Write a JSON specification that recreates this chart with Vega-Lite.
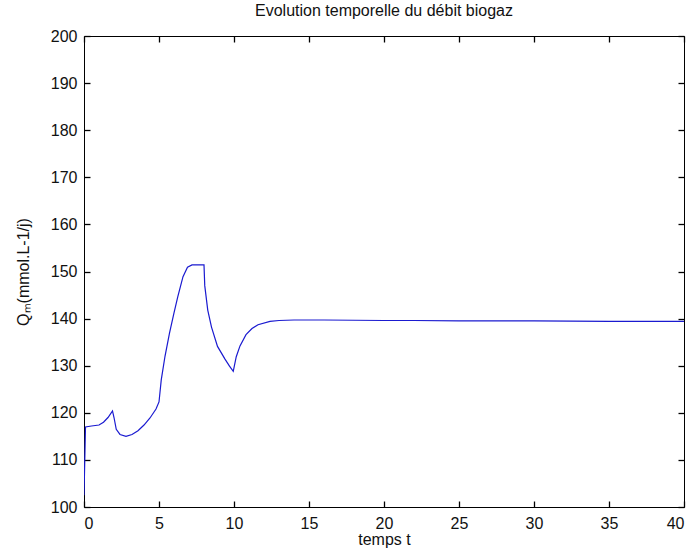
{
  "$schema": "https://vega.github.io/schema/vega-lite/v6.json",
  "width": 600,
  "height": 471,
  "autosize": {"type": "none"},
  "padding": {"left": 84, "top": 36, "right": 7, "bottom": 48},
  "background": "white",
  "title": {"text": "Evolution temporelle du débit biogaz", "font": "Liberation Sans", "fontSize": 16, "fontWeight": "normal", "color": "#111111", "anchor": "middle", "baseline": "alphabetic", "offset": -4},
  "data": {"values": [
    {"t": 0, "Q": 102.5}, {"t": 0.1, "Q": 117.0}, {"t": 0.5, "Q": 117.2}, {"t": 1.0, "Q": 117.4},
    {"t": 1.3, "Q": 118.0}, {"t": 1.6, "Q": 119.0}, {"t": 1.9, "Q": 120.4}, {"t": 2.0, "Q": 119.0},
    {"t": 2.15, "Q": 116.5}, {"t": 2.4, "Q": 115.4}, {"t": 2.8, "Q": 115.0}, {"t": 3.2, "Q": 115.4},
    {"t": 3.6, "Q": 116.2}, {"t": 4.0, "Q": 117.4}, {"t": 4.4, "Q": 118.9}, {"t": 4.8, "Q": 120.8},
    {"t": 5.0, "Q": 122.3}, {"t": 5.15, "Q": 127.0}, {"t": 5.4, "Q": 132.0}, {"t": 5.7, "Q": 136.9},
    {"t": 6.0, "Q": 141.2}, {"t": 6.25, "Q": 144.6}, {"t": 6.6, "Q": 148.9}, {"t": 6.9, "Q": 150.9},
    {"t": 7.2, "Q": 151.4}, {"t": 8.0, "Q": 151.4}, {"t": 8.05, "Q": 147.0}, {"t": 8.25, "Q": 141.8},
    {"t": 8.5, "Q": 138.2}, {"t": 8.9, "Q": 134.1}, {"t": 9.4, "Q": 131.4}, {"t": 9.7, "Q": 129.9},
    {"t": 9.95, "Q": 128.8}, {"t": 10.15, "Q": 131.9}, {"t": 10.4, "Q": 134.2}, {"t": 10.8, "Q": 136.6},
    {"t": 11.2, "Q": 137.9}, {"t": 11.6, "Q": 138.7}, {"t": 12.4, "Q": 139.4}, {"t": 13.0, "Q": 139.6},
    {"t": 14.0, "Q": 139.7}, {"t": 16.0, "Q": 139.7}, {"t": 20.0, "Q": 139.6}, {"t": 22.0, "Q": 139.6},
    {"t": 25.0, "Q": 139.5}, {"t": 30.0, "Q": 139.5}, {"t": 35.0, "Q": 139.4}, {"t": 40.0, "Q": 139.4}
  ]},
  "layer": [
    {
      "mark": {"type": "line", "color": "#1a1ad0", "strokeWidth": 1.2, "clip": true},
      "encoding": {
        "x": {"field": "t", "type": "quantitative", "scale": {"domain": [0, 40], "nice": false, "zero": false},
              "axis": {"orient": "bottom", "offset": -6, "values": [0, 5, 10, 15, 20, 25, 30, 35, 40], "title": "temps t", "labelPadding": 8, "titlePadding": 0}},
        "y": {"field": "Q", "type": "quantitative", "scale": {"domain": [100, 200], "nice": false, "zero": false},
              "axis": {"orient": "left", "offset": -6, "values": [100, 110, 120, 130, 140, 150, 160, 170, 180, 190, 200], "title": "Qₘ(mmol.L-1/j)", "labelPadding": 7, "titlePadding": 19}}
      }
    },
    {
      "mark": {"type": "line", "opacity": 0},
      "encoding": {
        "x": {"field": "t", "type": "quantitative", "axis": {"orient": "top", "offset": -6, "values": [0, 5, 10, 15, 20, 25, 30, 35, 40], "labels": false, "title": null}},
        "y": {"field": "Q", "type": "quantitative", "axis": {"orient": "right", "offset": -6, "values": [100, 110, 120, 130, 140, 150, 160, 170, 180, 190, 200], "labels": false, "title": null}}
      }
    }
  ],
  "resolve": {"axis": {"x": "independent", "y": "independent"}},
  "config": {
    "view": {"stroke": "black", "strokeWidth": 1},
    "axis": {
      "grid": false,
      "domain": false,
      "ticks": true,
      "tickSize": 6,
      "tickWidth": 1.3,
      "tickColor": "#000000",
      "tickOpacity": 1,
      "tickCap": "butt",
      "zindex": 2,
      "labelFont": "Liberation Sans",
      "labelFontSize": 16,
      "labelColor": "#111111",
      "titleFont": "Liberation Sans",
      "titleFontSize": 16,
      "titleFontWeight": "normal",
      "titleColor": "#111111"
    }
  }
}
